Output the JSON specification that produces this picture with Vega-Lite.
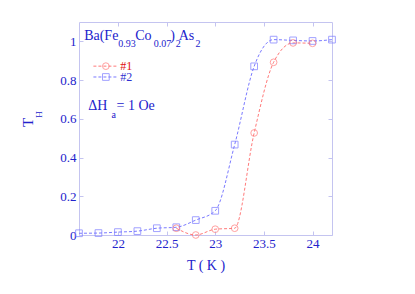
{
  "$schema": "https://vega.github.io/schema/vega-lite/v6.json",
  "width": 253,
  "height": 213,
  "autosize": {"type": "none"},
  "padding": {"left": 79, "top": 22, "right": 83, "bottom": 59},
  "background": "white",
  "config": {
    "view": {"stroke": null},
    "font": "Liberation Serif",
    "text": {"font": "Liberation Serif"},
    "axis": {
      "domainColor": "#c4c4f0",
      "tickColor": "#c4c4f0",
      "labelColor": "#2222cc",
      "titleColor": "#2222cc",
      "labelFont": "Liberation Serif",
      "titleFont": "Liberation Serif",
      "grid": false,
      "labelFontSize": 13,
      "titleFontSize": 14,
      "titleFontWeight": "normal",
      "tickSize": -4,
      "format": "~g"
    }
  },
  "datasets": {
    "meas": [
      {"T": 21.6, "TH": 0.009, "s": "#2"},
      {"T": 21.8, "TH": 0.010, "s": "#2"},
      {"T": 22.0, "TH": 0.015, "s": "#2"},
      {"T": 22.2, "TH": 0.020, "s": "#2"},
      {"T": 22.4, "TH": 0.035, "s": "#2"},
      {"T": 22.6, "TH": 0.040, "s": "#2"},
      {"T": 22.8, "TH": 0.077, "s": "#2"},
      {"T": 23.0, "TH": 0.125, "s": "#2"},
      {"T": 23.2, "TH": 0.467, "s": "#2"},
      {"T": 23.4, "TH": 0.871, "s": "#2"},
      {"T": 23.6, "TH": 1.009, "s": "#2"},
      {"T": 23.8, "TH": 1.005, "s": "#2"},
      {"T": 24.0, "TH": 1.002, "s": "#2"},
      {"T": 24.2, "TH": 1.009, "s": "#2"},
      {"T": 22.6, "TH": 0.035, "s": "#1"},
      {"T": 22.8, "TH": 0.000, "s": "#1"},
      {"T": 23.0, "TH": 0.030, "s": "#1"},
      {"T": 23.2, "TH": 0.035, "s": "#1"},
      {"T": 23.4, "TH": 0.527, "s": "#1"},
      {"T": 23.6, "TH": 0.892, "s": "#1"},
      {"T": 23.8, "TH": 0.992, "s": "#1"},
      {"T": 24.0, "TH": 0.990, "s": "#1"}
    ],
    "legend": [
      {"s": "#1", "xa": 21.748, "xb": 21.99, "xs": 21.876, "xt": 22.024, "y": 0.872},
      {"s": "#2", "xa": 21.748, "xb": 21.99, "xs": 21.876, "xt": 22.024, "y": 0.816}
    ],
    "mainText": [
      {"x": 21.653, "y": 1.0087, "t": "Ba(Fe"},
      {"x": 22.178, "y": 1.0087, "t": "Co"},
      {"x": 22.539, "y": 1.0087, "t": ")"},
      {"x": 22.625, "y": 1.0087, "t": "As"},
      {"x": 21.694, "y": 0.646, "t": "ΔH"},
      {"x": 21.986, "y": 0.646, "t": "= 1 Oe"}
    ],
    "subText": [
      {"x": 22.003, "y": 0.9727, "t": "0.93"},
      {"x": 22.369, "y": 0.9727, "t": "0.07"},
      {"x": 22.594, "y": 0.9727, "t": "2"},
      {"x": 22.797, "y": 0.9727, "t": "2"},
      {"x": 21.934, "y": 0.606, "t": "a"}
    ],
    "ytitleSub": [
      {"x": 21.186, "y": 0.6217, "t": "H"}
    ]
  },
  "layer": [
    {
      "data": {"name": "meas"},
      "mark": {"type": "line", "interpolate": "monotone", "strokeDash": [3, 2], "strokeWidth": 1},
      "encoding": {
        "x": {"field": "T", "type": "quantitative", "scale": {"domain": [21.6, 24.2], "nice": false, "zero": false},
              "axis": {"orient": "bottom", "values": [22, 22.5, 23, 23.5, 24], "format": "~g", "title": "T ( K )", "labelFont": "Liberation Serif", "titleFont": "Liberation Serif", "labelPadding": 6, "titlePadding": 8, "labelFlush": false}},
        "y": {"field": "TH", "type": "quantitative", "scale": {"domain": [0, 1.1], "nice": false, "zero": false},
              "axis": {"orient": "left", "values": [0, 0.2, 0.4, 0.6, 0.8, 1], "format": "~g", "title": "T", "titleFontSize": 15, "titleY": 100, "labelFont": "Liberation Serif", "titleFont": "Liberation Serif", "labelPadding": 7, "titlePadding": 24, "labelFlush": false}},
        "color": {"field": "s", "type": "nominal", "scale": {"domain": ["#1", "#2"], "range": ["#ff7a7a", "#7a7aff"]}, "legend": null},
        "detail": {"field": "s"}
      }
    },
    {
      "data": {"name": "meas"},
      "mark": {"type": "point", "filled": false, "strokeWidth": 1, "size": 45},
      "encoding": {
        "x": {"field": "T", "type": "quantitative", "scale": {"domain": [21.6, 24.2], "nice": false, "zero": false},
              "axis": {"orient": "top", "values": [22, 22.5, 23, 23.5, 24], "labels": false, "title": null}},
        "y": {"field": "TH", "type": "quantitative", "scale": {"domain": [0, 1.1], "nice": false, "zero": false},
              "axis": {"orient": "right", "values": [0, 0.2, 0.4, 0.6, 0.8, 1], "labels": false, "title": null}},
        "color": {"field": "s", "type": "nominal", "legend": null},
        "shape": {"field": "s", "type": "nominal", "scale": {"domain": ["#1", "#2"], "range": ["circle", "square"]}, "legend": null}
      }
    },
    {
      "data": {"name": "legend"},
      "mark": {"type": "rule", "strokeDash": [3, 2], "strokeWidth": 1},
      "encoding": {
        "x": {"field": "xa", "type": "quantitative", "scale": {"domain": [21.6, 24.2], "nice": false, "zero": false}, "axis": null},
        "x2": {"field": "xb"},
        "y": {"field": "y", "type": "quantitative", "scale": {"domain": [0, 1.1], "nice": false, "zero": false}, "axis": null},
        "color": {"field": "s", "type": "nominal", "legend": null}
      }
    },
    {
      "data": {"name": "legend"},
      "mark": {"type": "point", "filled": false, "strokeWidth": 1, "size": 45},
      "encoding": {
        "x": {"field": "xs", "type": "quantitative", "scale": {"domain": [21.6, 24.2], "nice": false, "zero": false}, "axis": null},
        "y": {"field": "y", "type": "quantitative", "scale": {"domain": [0, 1.1], "nice": false, "zero": false}, "axis": null},
        "color": {"field": "s", "type": "nominal", "legend": null},
        "shape": {"field": "s", "type": "nominal", "legend": null}
      }
    },
    {
      "data": {"name": "legend"},
      "mark": {"type": "text", "align": "left", "baseline": "middle", "font": "Liberation Serif", "fontSize": 12},
      "encoding": {
        "x": {"field": "xt", "type": "quantitative", "scale": {"domain": [21.6, 24.2], "nice": false, "zero": false}, "axis": null},
        "y": {"field": "y", "type": "quantitative", "scale": {"domain": [0, 1.1], "nice": false, "zero": false}, "axis": null},
        "text": {"field": "s"},
        "color": {"condition": {"test": "datum.s === '#1'", "value": "#e01010"}, "value": "#3030d0"}
      }
    },
    {
      "data": {"name": "mainText"},
      "mark": {"type": "text", "align": "left", "baseline": "alphabetic", "font": "Liberation Serif", "fontSize": 14, "color": "#2222cc"},
      "encoding": {
        "x": {"field": "x", "type": "quantitative", "scale": {"domain": [21.6, 24.2], "nice": false, "zero": false}, "axis": null},
        "y": {"field": "y", "type": "quantitative", "scale": {"domain": [0, 1.1], "nice": false, "zero": false}, "axis": null},
        "text": {"field": "t"}
      }
    },
    {
      "data": {"name": "subText"},
      "mark": {"type": "text", "align": "left", "baseline": "alphabetic", "font": "Liberation Serif", "fontSize": 10, "color": "#2222cc"},
      "encoding": {
        "x": {"field": "x", "type": "quantitative", "scale": {"domain": [21.6, 24.2], "nice": false, "zero": false}, "axis": null},
        "y": {"field": "y", "type": "quantitative", "scale": {"domain": [0, 1.1], "nice": false, "zero": false}, "axis": null},
        "text": {"field": "t"}
      }
    },
    {
      "data": {"name": "ytitleSub"},
      "mark": {"type": "text", "align": "center", "baseline": "middle", "angle": 270, "font": "Liberation Serif", "fontSize": 9, "color": "#2222cc"},
      "encoding": {
        "x": {"field": "x", "type": "quantitative", "scale": {"domain": [21.6, 24.2], "nice": false, "zero": false}, "axis": null},
        "y": {"field": "y", "type": "quantitative", "scale": {"domain": [0, 1.1], "nice": false, "zero": false}, "axis": null},
        "text": {"field": "t"}
      }
    }
  ],
  "resolve": {"axis": {"x": "independent", "y": "independent"}}
}
